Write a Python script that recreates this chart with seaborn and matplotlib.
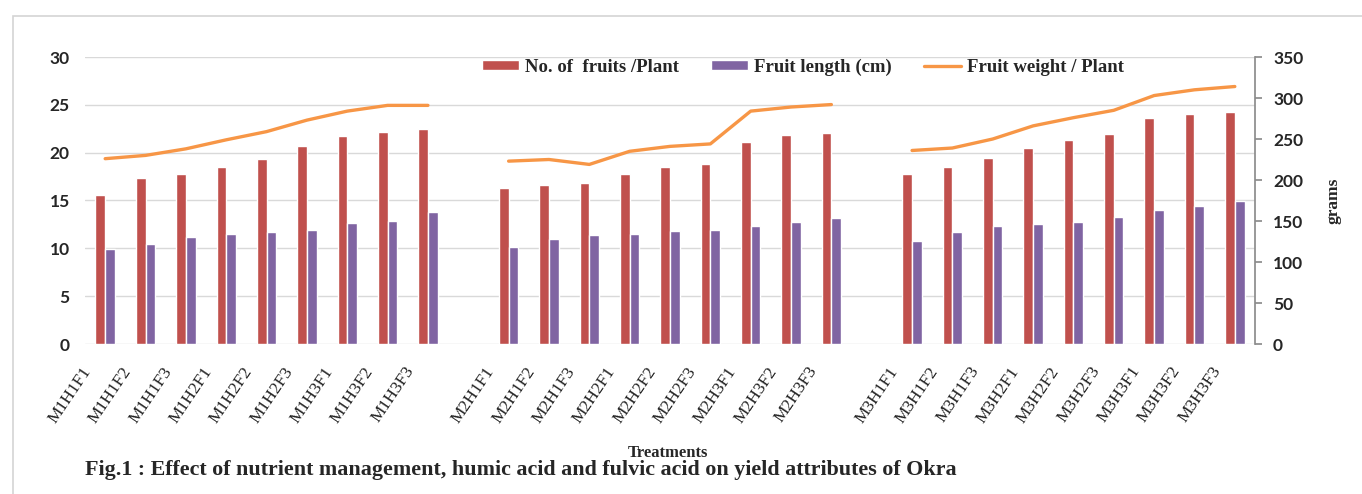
import matplotlib
matplotlib.use("Agg")
import matplotlib.pyplot as plt
from matplotlib.patches import Patch, Rectangle
from matplotlib.lines import Line2D
from matplotlib.transforms import ScaledTranslation
import seaborn as sns
import pandas as pd

# Treatment labels, three nutrient-management groups
group_m1 = ["M1H1F1", "M1H1F2", "M1H1F3", "M1H2F1", "M1H2F2", "M1H2F3", "M1H3F1", "M1H3F2", "M1H3F3"]
group_m2 = ["M2H1F1", "M2H1F2", "M2H1F3", "M2H2F1", "M2H2F2", "M2H2F3", "M2H3F1", "M2H3F2", "M2H3F3"]
group_m3 = ["M3H1F1", "M3H1F2", "M3H1F3", "M3H2F1", "M3H2F2", "M3H2F3", "M3H3F1", "M3H3F2", "M3H3F3"]

# No. of fruits per plant
fruits_m1 = [15.6, 17.3, 17.8, 18.5, 19.3, 20.7, 21.7, 22.2, 22.5]
fruits_m2 = [16.3, 16.6, 16.8, 17.8, 18.5, 18.8, 21.1, 21.8, 22.1]
fruits_m3 = [17.8, 18.5, 19.4, 20.5, 21.3, 22.0, 23.6, 24.0, 24.3]

# Fruit length (cm)
length_m1 = [9.9, 10.5, 11.2, 11.5, 11.7, 11.9, 12.6, 12.9, 13.8]
length_m2 = [10.1, 11.0, 11.4, 11.5, 11.8, 11.9, 12.3, 12.8, 13.2]
length_m3 = [10.8, 11.7, 12.3, 12.5, 12.8, 13.3, 14.0, 14.4, 14.9]

# Fruit weight per plant (grams)
weight_m1 = [226, 230, 238, 249, 259, 273, 284, 291, 291]
weight_m2 = [223, 225, 219, 235, 241, 244, 284, 289, 292]
weight_m3 = [236, 239, 250, 266, 276, 285, 303, 310, 314]

series_names = ["No. of  fruits /Plant", "Fruit length (cm)", "Fruit weight / Plant"]
colors = {"fruits": "#C0504D", "length": "#8064A2", "weight": "#F79646"}

# Category order with a blank slot between groups
gap_a, gap_b = " ", "  "
order = group_m1 + [gap_a] + group_m2 + [gap_b] + group_m3

groups = [(group_m1, fruits_m1, length_m1, weight_m1),
          (group_m2, fruits_m2, length_m2, weight_m2),
          (group_m3, fruits_m3, length_m3, weight_m3)]

bar_rows, line_rows = [], []
for gi, (names, fr, ln, wt) in enumerate(groups):
    for t, f, l, w in zip(names, fr, ln, wt):
        bar_rows.append({"treatment": t, "series": series_names[0], "value": f})
        bar_rows.append({"treatment": t, "series": series_names[1], "value": l})
        line_rows.append({"pos": order.index(t), "weight": w, "group": gi})
bars = pd.DataFrame(bar_rows)
line = pd.DataFrame(line_rows)

sns.set_theme(style="white")
plt.rcParams["font.family"] = ["Liberation Serif", "DejaVu Serif"]

fig = plt.figure(figsize=(13.62, 4.94), dpi=100)
ax = fig.add_axes([85 / 1362, 1 - 344 / 494, 1170 / 1362, 287 / 494])

sns.barplot(data=bars, x="treatment", y="value", hue="series", order=order,
            hue_order=series_names[:2],
            palette=[colors["fruits"], colors["length"]],
            width=0.48, gap=0, saturation=1, ax=ax, legend=False,
            errorbar=None)
ax.set_xlim(-0.5, len(order) - 0.5)
ax.set_ylim(0, 30)
ax.set_yticks(range(0, 31, 5))
ax.yaxis.grid(True, color="#D9D9D9", linewidth=1)
ax.set_axisbelow(True)
for s in ax.spines.values():
    s.set_visible(False)
ax.tick_params(axis="y", length=0, pad=11)
ax.tick_params(axis="x", length=0, pad=2)
for lbl in ax.get_yticklabels():
    lbl.set_fontfamily("Lato")
    lbl.set_fontweight("bold")
    lbl.set_fontsize(12.5)
ax.set_xticks(range(len(order)))
ax.set_xticklabels(order, rotation=56, ha="right", rotation_mode="anchor",
                   fontsize=12.5, color="#222222")
shift = ScaledTranslation(-24 / 100, -17 / 100, fig.dpi_scale_trans)
for lbl in ax.get_xticklabels():
    lbl.set_transform(lbl.get_transform() + shift)
ax.set_xlabel("")
ax.set_ylabel("")

ax2 = ax.twinx()
sns.lineplot(data=line, x="pos", y="weight", units="group", estimator=None,
             color=colors["weight"], linewidth=2.4, ax=ax2, legend=False)
ax2.set_ylim(0, 350)
ax2.set_yticks(range(0, 351, 50))
ax2.set_xlim(-0.5, len(order) - 0.5)
for side in ["left", "top", "bottom"]:
    ax2.spines[side].set_visible(False)
ax2.spines["right"].set_color("#8C8C8C")
ax2.tick_params(axis="y", right=True, length=5, color="#8C8C8C", pad=8, direction="out")
for lbl in ax2.get_yticklabels():
    lbl.set_fontfamily("Lato")
    lbl.set_fontweight("bold")
    lbl.set_fontsize(12.5)
ax2.set_ylabel("grams", fontsize=12.5, fontweight="bold", rotation=90, labelpad=16)
ax2.set_xlabel("")

handles = [Patch(facecolor=colors["fruits"]), Patch(facecolor=colors["length"]),
           Line2D([0], [0], color=colors["weight"], linewidth=2.4)]
fig.legend(handles, series_names, loc="center left",
           bbox_to_anchor=(465 / 1362, 1 - 67 / 494), ncol=3, frameon=False,
           prop={"family": "Liberation Serif", "weight": "bold", "size": 13.5},
           handlelength=2.0, handleheight=0.5, handletextpad=0.3, columnspacing=1.7)

fig.text(668 / 1362, 1 - 453 / 494, "Treatments", fontsize=12, fontweight="bold",
         ha="center", va="center")
fig.text(85 / 1362, 1 - 470 / 494,
         "Fig.1 : Effect of nutrient management, humic acid and fulvic acid on yield attributes of Okra",
         fontsize=15.8, fontweight="bold", va="center", ha="left")

fig.patches.append(Rectangle((13 / 1362, -0.1), 1.2, 1 - 16 / 494 + 0.1,
                             transform=fig.transFigure, fill=False,
                             edgecolor="#D4D4D4", linewidth=1.2))

fig.savefig("out.png", dpi=100, facecolor="white")
